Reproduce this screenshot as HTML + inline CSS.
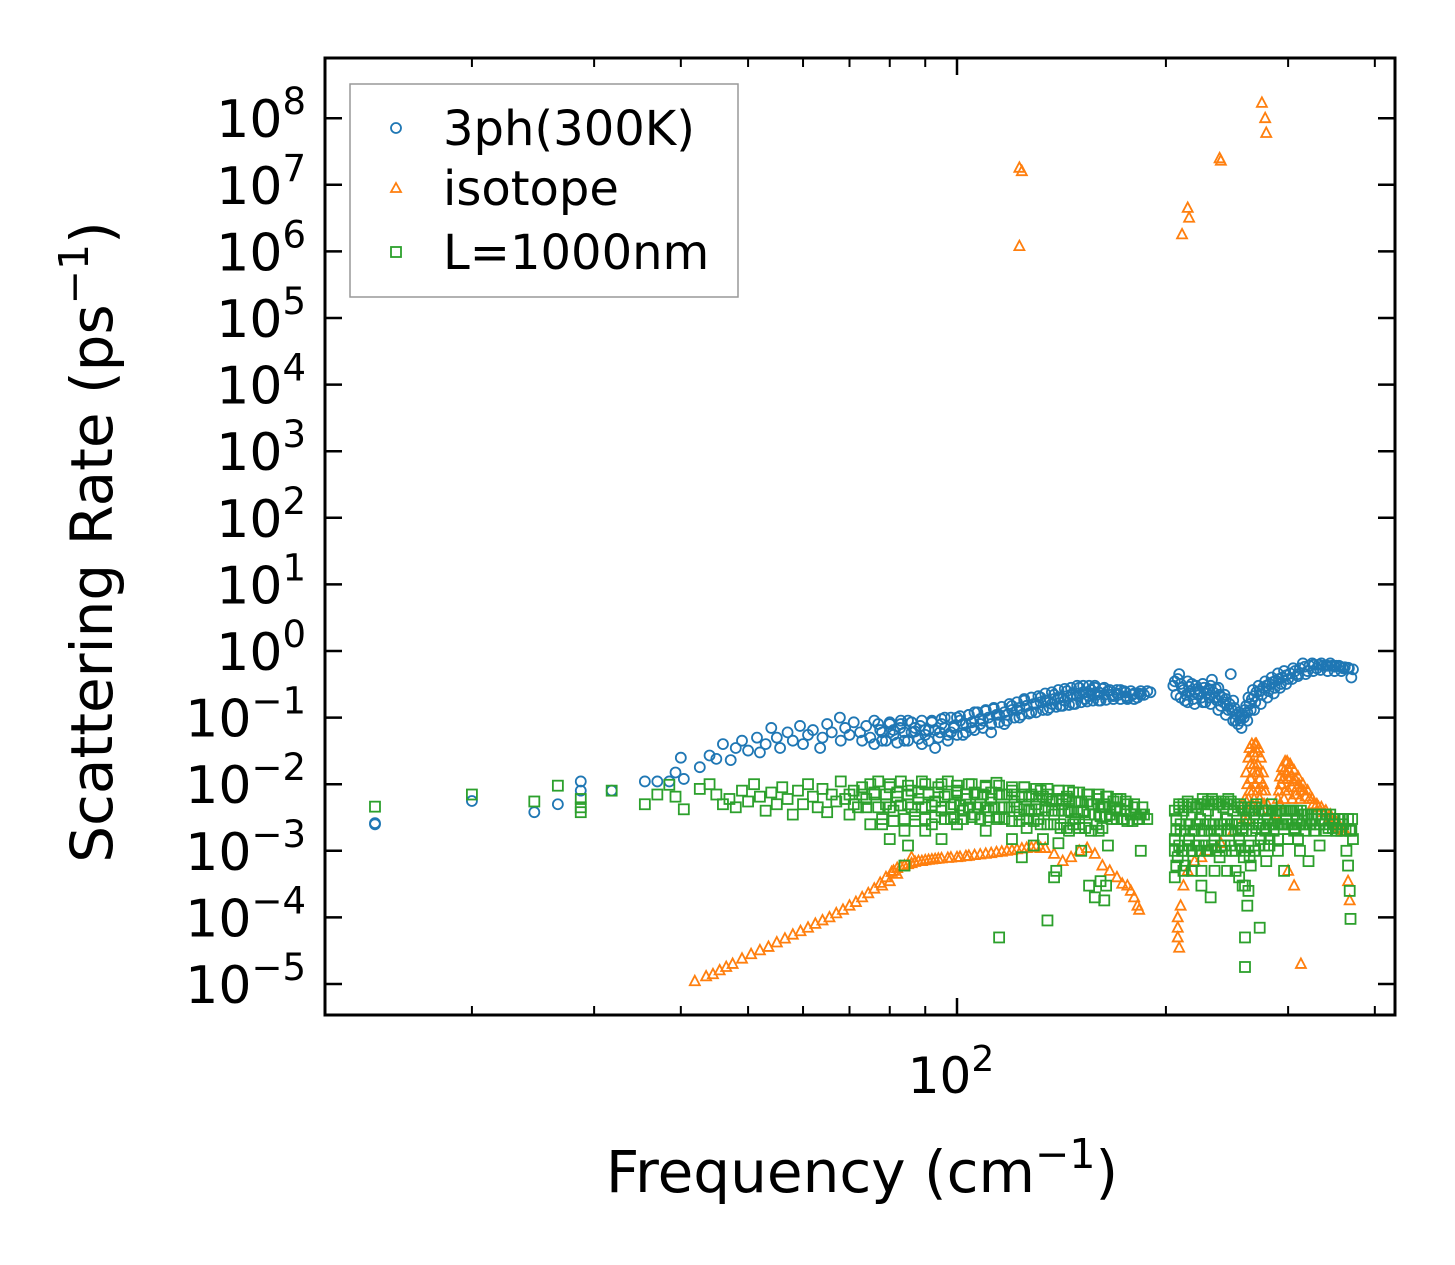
<!DOCTYPE html>
<html><head><meta charset="utf-8"><style>
html,body{margin:0;padding:0;background:#fff;}
svg{display:block;font-family:"DejaVu Sans","Liberation Sans",sans-serif;}
</style></head><body>
<svg id="chart" width="1455" height="1265" viewBox="0 0 1455 1265" xmlns="http://www.w3.org/2000/svg">
<rect x="0" y="0" width="1455" height="1265" fill="#fff"/>
<g id="marks"></g>
<g id="axes"></g>
<g id="legend">
<rect x="350" y="84" width="388" height="213" fill="#fff" fill-opacity="0.8" stroke="#999" stroke-width="1.5"/>
<circle cx="396" cy="128" r="5" fill="none" stroke="#1f77b4" stroke-width="1.8"/>
<text x="443" y="145" font-size="48">3ph(300K)</text>
<path d="M396,183 L401,192 L391,192 Z" fill="none" stroke="#ff7f0e" stroke-width="1.8"/>
<text x="443" y="205" font-size="48">isotope</text>
<rect x="391" y="247" width="10" height="10" fill="none" stroke="#2ca02c" stroke-width="1.8"/>
<text x="443" y="269" font-size="48">L=1000nm</text>
</g>
<text x="862" y="1192" font-size="58" text-anchor="middle">Frequency (cm<tspan dy="-24" font-size="41">−1</tspan><tspan dy="24">)</tspan></text>
<text transform="translate(112,542) rotate(-90)" font-size="58" text-anchor="middle">Scattering Rate (ps<tspan dy="-24" font-size="41">−1</tspan><tspan dy="24">)</tspan></text>
</svg>
<script>
const xTicksMajor = [100];
const xTicksMinor = [20,30,40,50,60,70,80,90,200,300,400];
const yTickExps = [8,7,6,5,4,3,2,1,0,-1,-2,-3,-4,-5];
const ph3 = [[14.5,2.6e-3],[14.5,2.5e-3],[20,5.6e-3],[24.6,3.8e-3],[26.6,5e-3],[28.7,1.1e-2],[28.7,8e-3],[31.8,8e-3],[35.5,1.1e-2],[37,1.1e-2],[38.5,1.1e-2],[39.3,1.5e-2],[40,2.5e-2],[40.4,1.2e-2],[42.6,1.8e-2],[44,2.7e-2],[45,2.4e-2],[46,4e-2],[47.2,2.3e-2],[48,3.5e-2],[49,4.5e-2],[50,3.2e-2],[51.5,5e-2],[52,3e-2],[53,4e-2],[54,7e-2],[55,5e-2],[55.6,3.5e-2],[57,6e-2],[58,4.5e-2],[59.4,7.5e-2],[60,4e-2],[61,5.5e-2],[62,6.5e-2],[63.5,3.5e-2],[64,5e-2],[65,8e-2],[66,6e-2],[67.8,1e-1],[68,4.5e-2],[69,7e-2],[70,5.5e-2],[71,8.5e-2],[72.5,6e-2],[73,4.5e-2],[74,7.5e-2],[75,5e-2],[76,9e-2],[77.5,6.5e-2],[78,4.5e-2],[80,8e-2],[81,5.5e-2],[82.8,7e-2],[84,4.5e-2],[85,9e-2],[86,6e-2],[88.5,7.5e-2],[89,4e-2],[90,5.5e-2],[92,8.5e-2],[93,3.5e-2],[94.5,6e-2],[96,1e-1],[97,4.5e-2],[99,7e-2],[101,9e-2],[102,5.5e-2],[104,1.1e-1],[105,7e-2],[108,8e-2],[110,1.3e-1],[112,6e-2],[115,1.1e-1],[117,8e-2],[120,1.5e-1],[123,1e-1],[125,1.8e-1],[128,1.2e-1],[132,2e-1],[135,1.3e-1],[138,2.2e-1],[141,1.5e-1],[144,2.5e-1],[147,1.6e-1],[150,2.8e-1],[153,1.9e-1],[156,2.6e-1],[158,3e-1],[161,1.8e-1],[165,2.5e-1],[168,2.1e-1],[172,2.6e-1],[176,2e-1],[180,2.3e-1],[184,2.2e-1],[188,2.5e-1],
[80,6e-2],[83,9e-2],[87,7e-2],[91,6.5e-2],[95,8e-2],[98,6e-2],[100,1e-1],[103,8e-2],[106,1.2e-1],[109,9e-2],[113,1.4e-1],[118,1.1e-1],[122,1.3e-1],[126,1.5e-1],[130,1.6e-1],[134,1.8e-1],[137,1.6e-1],[140,2e-1],[143,1.8e-1],[146,2.2e-1],[149,2.1e-1],[152,2.4e-1],[155,2.1e-1],[160,2.4e-1],[163,2.8e-1],[170,2.3e-1],[175,2.4e-1],[182,2e-1],[190,2.4e-1],
[76,4e-2],[79,4.5e-2],[82,4.2e-2],[85,4.5e-2],[88,4.8e-2],[91,4.5e-2],[94,5e-2],[97,5.5e-2],[100,5.5e-2],[103,6e-2],[106,6.5e-2],[109,7e-2],[112,8e-2],[115,8.5e-2],[118,9e-2],[121,1e-1],[124,1.1e-1],[127,1.15e-1],[130,1.2e-1],[133,1.3e-1],[136,1.4e-1],[139,1.45e-1],[142,1.5e-1],[145,1.55e-1],[148,1.6e-1],[151,1.7e-1],[154,1.75e-1],[157,1.8e-1],[160,1.8e-1],[164,1.85e-1],[168,1.9e-1],[172,1.9e-1],[176,1.9e-1],[180,1.9e-1],
[77,8e-2],[80,8.5e-2],[83,8e-2],[86,8.5e-2],[89,9e-2],[92,9e-2],[95,9.5e-2],[98,1e-1],[101,1.05e-1],[104,1.1e-1],[107,1.2e-1],[110,1.25e-1],[113,1.35e-1],[116,1.45e-1],[119,1.6e-1],[122,1.7e-1],[125,1.9e-1],[128,2e-1],[131,2.1e-1],[134,2.3e-1],[137,2.4e-1],[140,2.6e-1],[143,2.7e-1],[146,2.8e-1],[149,3e-1],[152,3e-1],[155,3e-1],[158,2.8e-1],[162,2.7e-1],[166,2.6e-1],[170,2.6e-1],[174,2.5e-1],[178,2.5e-1],[184,2.5e-1],
[78,6e-2],[81,6.5e-2],[84,6e-2],[87,6.2e-2],[90,6.5e-2],[93,6.5e-2],[96,7e-2],[99,7.5e-2],[102,8e-2],[105,8.5e-2],[108,9.5e-2],[111,1e-1],[114,1.1e-1],[117,1.2e-1],[120,1.3e-1],[123,1.4e-1],[126,1.5e-1],[129,1.6e-1],[132,1.7e-1],[135,1.8e-1],[138,1.9e-1],[141,2e-1],[144,2.1e-1],[147,2.2e-1],[150,2.3e-1],[153,2.4e-1],[156,2.3e-1],[159,2.2e-1],[163,2.2e-1],[167,2.2e-1],[171,2.2e-1],[175,2.1e-1],[179,2.2e-1],[183,2.3e-1],[186,2.2e-1],
[206,3.5e-1],[207,2.2e-1],[209,4.5e-1],[211,2.8e-1],[213,1.8e-1],[215,3.5e-1],[217,2.5e-1],[219,1.9e-1],[221,3e-1],[223,2.2e-1],[226,3.2e-1],[228,1.7e-1],[230,2.6e-1],[233,3.7e-1],[235,2e-1],[238,2.8e-1],[240,1.5e-1],[243,2.2e-1],[246,1.3e-1],[248,4.5e-1],[250,1.8e-1],[252,9e-2],[255,1.2e-1],[257,7e-2],[259,1e-1],[261,1.5e-1],[263,2e-1],[265,1.3e-1],[267,2.6e-1],[269,1.7e-1],[272,3e-1],[275,2.2e-1],[278,3.5e-1],[281,2.5e-1],[284,4e-1],[287,2.8e-1],[290,4.6e-1],[293,3.2e-1],[296,5e-1],[300,3.8e-1],[305,5.5e-1],[310,4.5e-1],[315,6.5e-1],[320,5e-1],[325,6.5e-1],[330,5.5e-1],[335,6.5e-1],[340,6e-1],[345,6.5e-1],[350,5.8e-1],[355,6e-1],[360,5.5e-1],[366,5.6e-1],[370,4e-1],[372,5.3e-1],
[205,3e-1],[208,3.8e-1],[210,3.2e-1],[212,2.6e-1],[214,2.2e-1],[216,2.9e-1],[218,3.2e-1],[220,2.4e-1],[222,2.7e-1],[224,2.5e-1],[225,2e-1],[227,2.8e-1],[229,2.3e-1],[231,2e-1],[232,3e-1],[234,2.4e-1],[236,2.7e-1],[237,1.8e-1],[239,2.2e-1],[241,2e-1],[242,1.7e-1],[244,1.9e-1],[245,1.5e-1],[247,1.6e-1],[249,1.3e-1],[251,1.4e-1],[253,1.1e-1],[254,8e-2],[256,9e-2],[258,1.1e-1],[260,1.3e-1],[262,1.2e-1],[264,1.6e-1],[266,1.9e-1],[268,2.1e-1],[270,2.4e-1],[273,2.5e-1],[276,2.8e-1],[279,3e-1],[282,3.2e-1],[285,3.4e-1],[288,3.6e-1],[291,3.8e-1],[294,4e-1],[298,4.3e-1],[302,4.6e-1],[307,5e-1],[312,5.5e-1],[317,5.8e-1],[322,6e-1],[327,6.2e-1],[332,6.2e-1],[337,6e-1],[342,6e-1],[347,6e-1],[352,6e-1],[357,5.8e-1],[362,5.7e-1],[367,5.5e-1],
[210,2e-1],[215,1.7e-1],[220,1.6e-1],[226,1.7e-1],[232,1.6e-1],[238,1.3e-1],[244,1.1e-1],[250,9e-2],[256,1e-1],[262,9e-2],[268,1.3e-1],[274,1.6e-1],[280,2e-1],[286,2.3e-1],[292,2.8e-1],[298,3.2e-1],[304,3.8e-1],[310,4.2e-1],[318,4.5e-1],[326,5e-1],[334,5.2e-1],[342,5e-1],[350,5e-1],[358,5e-1]];
const isotope = [[41.9,1.1e-5],[43.5,1.3e-5],[44.5,1.4e-5],[45.5,1.6e-5],[46.5,1.8e-5],[47.5,2e-5],[49,2.4e-5],[50.5,2.8e-5],[52,3.2e-5],[53.5,3.6e-5],[55,4.2e-5],[56.5,4.8e-5],[58,5.5e-5],[59.5,6.2e-5],[61,7e-5],[62.5,8e-5],[64,9e-5],[65.5,1e-4],[67,1.15e-4],[68.5,1.3e-4],[70,1.5e-4],[71.5,1.7e-4],[73,2e-4],[74.5,2.3e-4],[76,2.7e-4],[77.5,3.3e-4],[79,4e-4],[80.5,4.8e-4],[82,5.5e-4],[84,6e-4],[86,6.5e-4],[88,7e-4],[90,7.2e-4],[92,7.4e-4],[94,7.6e-4],[97,7.8e-4],[100,8e-4],[103,8.3e-4],[106,8.6e-4],[110,9e-4],[114,9.5e-4],[118,1e-3],[122,1.05e-3],[126,1.1e-3],[130,1.15e-3],[134,1.1e-3],[138,9e-4],[142,7e-4],[146,8e-4],[150,1e-3],[154,1.1e-3],[158,9e-4],[162,6e-4],[166,5e-4],[170,4e-4],[173,3.2e-4],[176,3e-4],[178,2.5e-4],[180,2e-4],[182,1.5e-4],[183,1.3e-4],[80,3.5e-4],[82,4.5e-4],[78,3e-4],[86,8e-4],
[81,5e-4],[83,5.8e-4],[85,6.3e-4],[87,6.8e-4],[89,7e-4],[91,7.3e-4],[93,7.5e-4],[95,7.7e-4],[98,7.9e-4],[101,8.1e-4],[104,8.4e-4],[108,8.8e-4],[112,9.2e-4],[116,9.7e-4],[120,1.02e-3],[124,1.08e-3],[128,1.12e-3],[132,1.1e-3],
[123,1.8e7],[124,1.6e7],[123,1.2e6],[211,1.8e6],[215,4.5e6],[216,3.2e6],[239,2.5e7],[240,2.3e7],[275,1.7e8],[278,1e8],[279,6e7],[313,2e-5],
[208,1e-4],[208,7e-5],[208,5e-5],[209,3.5e-5],[210,1.5e-4],[212,3e-4],[215,5e-4],[220,7e-4],[225,8e-4],[230,1e-3],[240,1.3e-3],[250,2e-3],[258,5e-3],[262,1e-2],[265,2e-2],[268,3e-2],[270,4e-2],[272,3.5e-2],[274,2.5e-2],[276,1.5e-2],[278,8e-3],[280,5e-3],[283,4e-3],[287,3.5e-3],[290,6e-3],[293,1e-2],[296,1.6e-2],[299,2.2e-2],[302,2e-2],[306,1.6e-2],[310,1.3e-2],[315,1e-2],[320,8e-3],[325,6e-3],[330,5e-3],[335,4.5e-3],[340,4e-3],[345,3.5e-3],[350,3e-3],[355,2.5e-3],[360,2e-3],[366,3.5e-4],[368,1.8e-4],[300,5e-4],[306,3e-4],[262,3e-3],[266,5e-3],[269,1e-2],[273,1.2e-2],[268,6e-3],[264,8e-3],[267,1.5e-2],[271,2e-2],[275,8e-3],[297,8e-3],[300,1.2e-2],[304,9e-3],[308,7e-3],[312,6e-3],
[259,3e-3],[260,6e-3],[261,1.5e-2],[263,2.5e-2],[264,3.5e-2],[266,4e-2],[267,3e-2],[268,2e-2],[269,4e-2],[271,3e-2],[272,1.5e-2],[273,6e-3],[274,4e-3],[276,1e-2],[277,5e-3],[265,1.2e-2],[270,1.5e-2],[263,6e-3],[267,8e-3],[271,8e-3],[289,3e-3],[291,8e-3],[292,1.3e-2],[294,1.8e-2],[295,1.2e-2],[297,2.2e-2],[298,1.5e-2],[301,1.6e-2],[303,1.3e-2],[305,1.1e-2],[307,1.2e-2],[309,9e-3],[311,1e-2],[313,8e-3],[316,8e-3],[318,6.5e-3],[322,6e-3],[326,5e-3],[332,4.5e-3],[338,3.8e-3],[344,3.2e-3],[350,2.8e-3],[356,2.2e-3],[362,2e-3],[292,5e-3],[296,6e-3],[300,8e-3],[304,6e-3]];
const boundary = [[14.5,4.6e-3],[20,7e-3],[24.6,5.5e-3],[26.6,9.5e-3],[28.7,6e-3],[28.7,4.5e-3],[28.7,3.8e-3],[31.8,8e-3],[35.5,5e-3],[37,7e-3],[38.5,9.8e-3],[39.3,6.5e-3],[40.4,4.2e-3],[42.6,8.5e-3],[44,1e-2],[45,7e-3],[46,5e-3],[47,6e-3],[48,4.5e-3],[49,8e-3],[50,5.5e-3],[51,1e-2],[52,6.5e-3],[53,4e-3],[54,7.5e-3],[55,5e-3],[56,9e-3],[57,6e-3],[58,3.5e-3],[59,8e-3],[60,5e-3],[61,1e-2],[62,6.5e-3],[63,4.5e-3],[64,8.5e-3],[65,3.8e-3],[66,7e-3],[67,5.5e-3],[68,1.1e-2],[69,6e-3],[70,3.5e-3],[71,8e-3],[72,4.5e-3],[73,9e-3],[74,6e-3],[75,2.5e-3],[76,7e-3],[77,1.1e-2],[78,3e-3],[79,5e-3],[80,9e-3],[80,1.5e-3],[81,4e-3],[82,6.5e-3],[83,1.1e-2],[84,2e-3],[85,5e-3],[86,8e-3],[87,3.5e-3],[88,6e-3],[89,1.1e-2],[90,4.5e-3],[91,7.5e-3],[92,2.5e-3],[93,5.5e-3],[94,9e-3],[95,4e-3],[96,6.5e-3],[97,1.1e-2],[98,3e-3],[99,5e-3],[100,8e-3],[102,4e-3],[103,6e-3],[104,1e-2],[106,3.5e-3],[107,7e-3],[108,5e-3],[110,9e-3],[111,4e-3],[112,6e-3],[114,1.05e-2],[115,3.2e-3],[116,7e-3],[117,4.5e-3],[115,5e-5],[120,8e-3],[121,5.5e-3],[123,3.5e-3],[124,6.5e-3],[125,9e-3],[127,4e-3],[128,7e-3],[130,5e-3],[131,3e-3],[132,8e-3],[133,1.5e-3],[134,4.5e-3],[135,7e-3],[135,9e-5],[137,5.5e-3],[138,3.5e-3],[140,8e-3],[141,2.5e-3],[142,5e-3],[144,6.5e-3],[145,4e-3],[147,7.5e-3],[148,3e-3],[150,5.5e-3],[151,1e-3],[152,4e-3],[154,7e-3],[155,3e-4],[156,5e-3],[158,2e-4],[158,3.5e-3],[160,6e-3],[162,4.5e-3],[164,6.5e-3],[165,1.2e-3],[166,3.5e-3],[168,5.5e-3],[170,4e-3],[172,6e-3],[174,3e-3],[176,5e-3],[178,3.5e-3],[180,4.5e-3],[182,3e-3],[184,1e-3],[186,3.5e-3],[188,3e-3],[140,1.3e-3],[145,2e-3],[150,2.2e-3],[160,2e-3],[161,3.5e-4],[164,3e-4],[163,1.8e-4],[139,5e-4],[138,4e-4],[95,1.5e-3],[90,2e-3],[85,1.2e-3],[100,2.5e-3],[110,2e-3],[120,1.5e-3],[126,2.2e-3],[129,1.2e-3],[84,6e-4],[124,8e-4],
[70,7e-3],[73,7e-3],[76,7.5e-3],[79,7e-3],[82,7.5e-3],[85,7e-3],[88,7.5e-3],[91,7e-3],[94,7.5e-3],[97,7e-3],[100,7.5e-3],[103,7e-3],[106,7.5e-3],[109,7e-3],[112,7.5e-3],[115,7e-3],[118,7e-3],[121,7e-3],[124,7e-3],[127,6.5e-3],[130,6.5e-3],[133,6.5e-3],[136,6e-3],[139,6e-3],[142,6e-3],[145,6e-3],[148,5.5e-3],[151,5.5e-3],[154,5.5e-3],[157,5e-3],[160,5e-3],[163,5e-3],[166,4.5e-3],[169,4.5e-3],[172,4e-3],[175,4e-3],[178,3.5e-3],[181,3.5e-3],[184,3.5e-3],
[71,5e-3],[74,4.5e-3],[77,4.5e-3],[80,4.5e-3],[83,4.8e-3],[86,4.5e-3],[89,4.5e-3],[92,4.8e-3],[95,4.5e-3],[98,4.5e-3],[101,4.8e-3],[104,4.5e-3],[107,4.5e-3],[110,4.5e-3],[113,4.5e-3],[116,4.5e-3],[119,4.5e-3],[122,4.5e-3],[125,4.2e-3],[128,4.2e-3],[131,4.2e-3],[134,4e-3],[137,4e-3],[140,4e-3],[143,4e-3],[146,3.8e-3],[149,3.8e-3],[152,3.8e-3],[155,3.5e-3],[158,3.5e-3],[161,3.3e-3],[164,3.3e-3],[167,3e-3],[170,3e-3],[173,3e-3],[176,2.8e-3],[179,2.8e-3],[183,3e-3],
[78,2.5e-3],[81,2.8e-3],[84,3e-3],[87,2.8e-3],[90,3e-3],[93,3.2e-3],[96,3e-3],[99,3.2e-3],[102,3e-3],[105,3.2e-3],[108,3e-3],[111,3.2e-3],[114,3e-3],[117,3e-3],[120,2.8e-3],[123,2.8e-3],[126,3e-3],[129,2.8e-3],[132,2.5e-3],[135,2.5e-3],[138,2.5e-3],[141,2.2e-3],[144,2.2e-3],[147,2.5e-3],[150,2.5e-3],[153,2.2e-3],[156,2e-3],[159,2.5e-3],[162,2.2e-3],
[75,1e-2],[80,1e-2],[85,9.5e-3],[90,1e-2],[95,1e-2],[100,9.5e-3],[105,1e-2],[110,9.5e-3],[115,9.5e-3],[120,9e-3],[125,9e-3],[130,8.5e-3],[135,8.5e-3],[140,8e-3],[145,8e-3],[150,7.5e-3],[155,7e-3],[160,7e-3],[165,6.5e-3],[170,6e-3],[175,5.5e-3],[180,5e-3],[185,4.5e-3],
[206,1.5e-3],[206,4e-4],[207,3e-3],[208,8e-4],[209,5e-3],[210,2e-3],[211,1e-3],[212,4e-3],[213,6e-4],[214,2.5e-3],[215,5.5e-3],[216,1.5e-3],[218,3.5e-3],[219,7e-4],[220,2e-3],[222,5e-3],[223,1.2e-3],[224,3e-3],[225,3e-4],[226,6e-3],[227,2e-3],[229,1e-3],[230,4e-3],[231,2.5e-3],[232,2e-4],[233,6e-3],[235,1.5e-3],[236,3.5e-3],[238,5e-3],[239,8e-4],[240,2.5e-3],[242,4.5e-3],[243,1.2e-3],[245,3e-3],[246,6e-3],[248,2e-3],[249,1e-3],[250,4e-3],[252,5e-4],[253,2.5e-3],[255,1.5e-3],[256,5e-3],[258,3e-4],[258,2e-3],[259,8e-4],[260,1.8e-5],[260,5e-5],[261,3e-3],[262,1.5e-4],[263,1.2e-3],[264,4e-3],[265,6e-4],[266,2e-3],[268,3.5e-3],[269,1e-3],[270,5e-3],[272,2.5e-3],[273,7e-5],[274,1.5e-3],[276,4e-3],[278,2e-3],[279,7e-4],[280,3e-3],[282,1.2e-3],[284,5e-3],[286,2e-3],[288,3.5e-3],[290,1e-3],[292,4e-3],[294,2.5e-3],[296,5e-4],[298,3e-3],[300,1.5e-3],[303,4e-3],[306,2e-3],[309,3e-3],[312,1e-3],[315,3.5e-3],[318,2e-3],[321,7e-4],[324,3e-3],[327,2e-3],[330,3.5e-3],[333,1.2e-3],[336,3e-3],[340,2e-3],[344,3e-3],[348,2.5e-3],[352,2e-3],[356,3e-3],[360,2.5e-3],[364,1e-3],[366,6e-4],[368,2.5e-4],[369,9.5e-5],[370,2e-3],[372,1.5e-3],
[206,4e-3],[209,4.5e-3],[212,5e-3],[215,4.5e-3],[218,5e-3],[221,4.5e-3],[224,5e-3],[227,5e-3],[230,5.5e-3],[233,5e-3],[236,5.5e-3],[239,5e-3],[242,5.5e-3],[245,5e-3],[248,5.5e-3],[251,5e-3],[254,4.5e-3],[257,4.5e-3],[260,4e-3],[263,4e-3],[266,4.5e-3],[269,4.5e-3],[272,4e-3],[275,4e-3],[278,4e-3],[281,4e-3],[285,4e-3],[289,4e-3],[293,4e-3],[297,4e-3],[301,4e-3],[305,4e-3],[309,4e-3],[313,4e-3],[317,3.5e-3],[321,3.5e-3],[325,3.5e-3],[330,3.5e-3],[335,3.5e-3],[340,3.5e-3],[345,3.5e-3],[350,3e-3],[355,3e-3],[360,3e-3],[366,3e-3],[371,3e-3],
[207,2e-3],[210,2.5e-3],[213,2e-3],[216,2.5e-3],[219,2e-3],[222,2.5e-3],[225,2e-3],[228,2.5e-3],[231,2e-3],[234,2.5e-3],[237,2e-3],[240,2e-3],[243,2.5e-3],[246,2e-3],[249,2.5e-3],[252,2e-3],[255,2.5e-3],[258,2.2e-3],[261,2e-3],[264,2.5e-3],[267,2.5e-3],[270,2.2e-3],[273,2.5e-3],[276,2.5e-3],[279,2.2e-3],[283,2.5e-3],[287,2.5e-3],[291,2.5e-3],[295,2.5e-3],[299,2.5e-3],[303,2.5e-3],[307,2.2e-3],[311,2.5e-3],[315,2.5e-3],[319,2.5e-3],[323,2.5e-3],[328,2.5e-3],[333,2.5e-3],[338,2.5e-3],[343,2.2e-3],[348,2.2e-3],[353,2e-3],[358,2e-3],[363,2e-3],[368,2e-3],
[206,1e-3],[209,1.2e-3],[212,1e-3],[215,1.2e-3],[218,1e-3],[221,1.2e-3],[224,1e-3],[227,1.2e-3],[230,1e-3],[233,1.2e-3],[236,1e-3],[240,1.2e-3],[244,1e-3],[248,1.2e-3],[252,1e-3],[256,1.2e-3],[260,1e-3],[264,8e-4],[268,1e-3],[272,1.2e-3],[277,1.2e-3],[282,1.5e-3],[290,1.5e-3],[300,1.5e-3],[310,1.5e-3],
[207,6e-4],[212,5e-4],[218,5e-4],[225,5e-4],[235,5e-4],[245,5e-4],[255,4e-4],[260,3e-4],[263,2.5e-4]];

const NS = 'http://www.w3.org/2000/svg';
const L = 325, R = 1395, T = 58, B = 1015;
function xs(f){ return 957 + 694 * (Math.log10(f) - 2); }
function ys(v){ return 651 - 66.6 * Math.log10(v); }
function mk(tag, attrs, parent){ const e = document.createElementNS(NS, tag); for (const k in attrs) e.setAttribute(k, attrs[k]); parent.appendChild(e); return e; }

const marks = document.getElementById('marks');
const gB = mk('g', {}, marks);


ph3.forEach(p => {
  const c = mk('circle', {cx: xs(p[0]), cy: ys(p[1]), r: 5, fill: 'none', stroke: '#1f77b4', 'stroke-width': 1.8}, gB);
  
  
});
const gO = mk('g', {}, marks);


isotope.forEach(p => {
  const x = xs(p[0]), y = ys(p[1]);
  const t = mk('path', {d: `M${x},${y-5.5} L${x+5},${y+4} L${x-5},${y+4} Z`, fill: 'none', stroke: '#ff7f0e', 'stroke-width': 1.8}, gO);
  
  
});
const gG = mk('g', {}, marks);


boundary.forEach(p => {
  const s = mk('rect', {x: xs(p[0]) - 5, y: ys(p[1]) - 5, width: 10, height: 10, fill: 'none', stroke: '#2ca02c', 'stroke-width': 1.8}, gG);
  
  
});

const axes = document.getElementById('axes');
const frame = mk('rect', {x: L, y: T, width: R - L, height: B - T, fill: 'none', stroke: '#000', 'stroke-width': 3}, axes);


xTicksMinor.forEach(f => {
  const x = xs(f);
  const a = mk('line', {x1: x, x2: x, y1: B, y2: B - 9, stroke: '#000', 'stroke-width': 2}, axes);
  
  
  const b = mk('line', {x1: x, x2: x, y1: T, y2: T + 9, stroke: '#000', 'stroke-width': 2}, axes);
  
  
});
xTicksMajor.forEach(f => {
  const x = xs(f);
  const a = mk('line', {x1: x, x2: x, y1: B, y2: B - 17, stroke: '#000', 'stroke-width': 2.5}, axes);
  
  
  const b = mk('line', {x1: x, x2: x, y1: T, y2: T + 17, stroke: '#000', 'stroke-width': 2.5}, axes);
  
  
  const t = mk('text', {x: x - 6, y: 1093, 'font-size': 50, 'text-anchor': 'middle'}, axes);
  
  
  t.innerHTML = '10<tspan dy="-22" font-size="36">' + Math.round(Math.log10(f)) + '</tspan>';
});
yTickExps.forEach(e => {
  const y = ys(Math.pow(10, e));
  const a = mk('line', {x1: L, x2: L + 17, y1: y, y2: y, stroke: '#000', 'stroke-width': 2.5}, axes);
  
  
  const b = mk('line', {x1: R, x2: R - 17, y1: y, y2: y, stroke: '#000', 'stroke-width': 2.5}, axes);
  
  
  const t = mk('text', {x: 306, y: y + 19, 'font-size': 52, 'text-anchor': 'end'}, axes);
  
  
  t.innerHTML = '10<tspan dy="-23" font-size="37">' + (e < 0 ? '−' + (-e) : e) + '</tspan>';
});
</script>
</body></html>
